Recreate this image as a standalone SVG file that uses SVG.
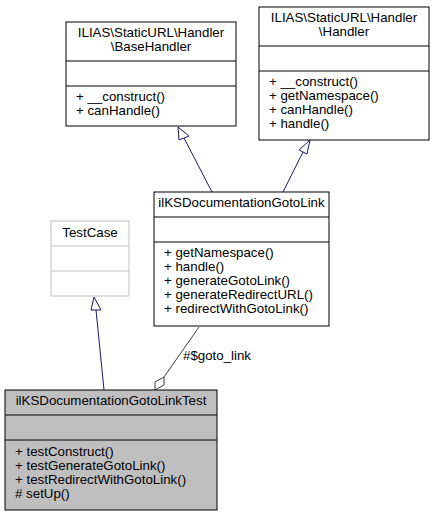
<svg xmlns="http://www.w3.org/2000/svg" width="435" height="516" viewBox="0 0 435 516">
<style>
text{font-family:"Liberation Sans",Arial,sans-serif;font-size:13.3px;fill:#000}
.c{text-anchor:middle}
.n{fill:#fff;stroke:#000;stroke-width:1}
.g{fill:#bfbfbf;stroke:#000;stroke-width:1}
.t{fill:#fff;stroke:#bfbfbf;stroke-width:1}
.inh{stroke:#191970;fill:none;stroke-width:1}
.agg{stroke:#404040;fill:none;stroke-width:1}
</style>
<rect width="435" height="516" fill="#fff"/>
<g id="connectors">
<path class="inh" d="M212,192 L184,138"/>
<polygon points="178,127 189,136 179,140" fill="#fff" stroke="#191970"/>
<path class="inh" d="M283,192 L303,152"/>
<polygon points="310,140 307,154 299,150" fill="#fff" stroke="#191970"/>
<path class="inh" d="M104,390 L96,310"/>
<polygon points="94,297 91,310 101,310" fill="#fff" stroke="#191970"/>
<path class="agg" d="M199,327 L164,377"/>
<polygon points="155,390 155,382 164,377 164,385" fill="#fff" stroke="#404040"/>
<text x="183" y="360">#$goto_link</text>
</g>
<g id="BaseHandler">
<rect class="n" x="66" y="22" width="170" height="104"/>
<line class="n" x1="66" y1="61" x2="236" y2="61"/>
<line class="n" x1="66" y1="86" x2="236" y2="86"/>
<text class="c" x="151" y="37">ILIAS\StaticURL\Handler</text>
<text class="c" x="151" y="51">\BaseHandler</text>
<text x="76" y="101">+ __construct()</text>
<text x="76" y="115">+ canHandle()</text>
</g>
<g id="Handler">
<rect class="n" x="259" y="7" width="170" height="133"/>
<line class="n" x1="259" y1="46" x2="429" y2="46"/>
<line class="n" x1="259" y1="71" x2="429" y2="71"/>
<text class="c" x="344" y="22">ILIAS\StaticURL\Handler</text>
<text class="c" x="344" y="36">\Handler</text>
<text x="269" y="86">+ __construct()</text>
<text x="269" y="100">+ getNamespace()</text>
<text x="269" y="114">+ canHandle()</text>
<text x="269" y="128">+ handle()</text>
</g>
<g id="GotoLink">
<rect class="n" x="154" y="192" width="175" height="134"/>
<line class="n" x1="154" y1="217" x2="329" y2="217"/>
<line class="n" x1="154" y1="242" x2="329" y2="242"/>
<text class="c" x="241.5" y="207">ilKSDocumentationGotoLink</text>
<text x="164" y="257">+ getNamespace()</text>
<text x="164" y="271">+ handle()</text>
<text x="164" y="285">+ generateGotoLink()</text>
<text x="164" y="299">+ generateRedirectURL()</text>
<text x="164" y="313">+ redirectWithGotoLink()</text>
</g>
<g id="TestCase">
<rect class="t" x="51" y="221" width="78" height="75"/>
<line class="t" x1="51" y1="246" x2="129" y2="246"/>
<line class="t" x1="51" y1="271" x2="129" y2="271"/>
<text class="c" x="90" y="237">TestCase</text>
</g>
<g id="GotoLinkTest">
<rect class="g" x="5" y="390" width="212" height="120"/>
<line class="g" x1="5" y1="415" x2="217" y2="415"/>
<line class="g" x1="5" y1="440" x2="217" y2="440"/>
<text class="c" x="111" y="405">ilKSDocumentationGotoLinkTest</text>
<text x="15" y="456">+ testConstruct()</text>
<text x="15" y="470">+ testGenerateGotoLink()</text>
<text x="15" y="484">+ testRedirectWithGotoLink()</text>
<text x="15" y="498"># setUp()</text>
</g>
</svg>
